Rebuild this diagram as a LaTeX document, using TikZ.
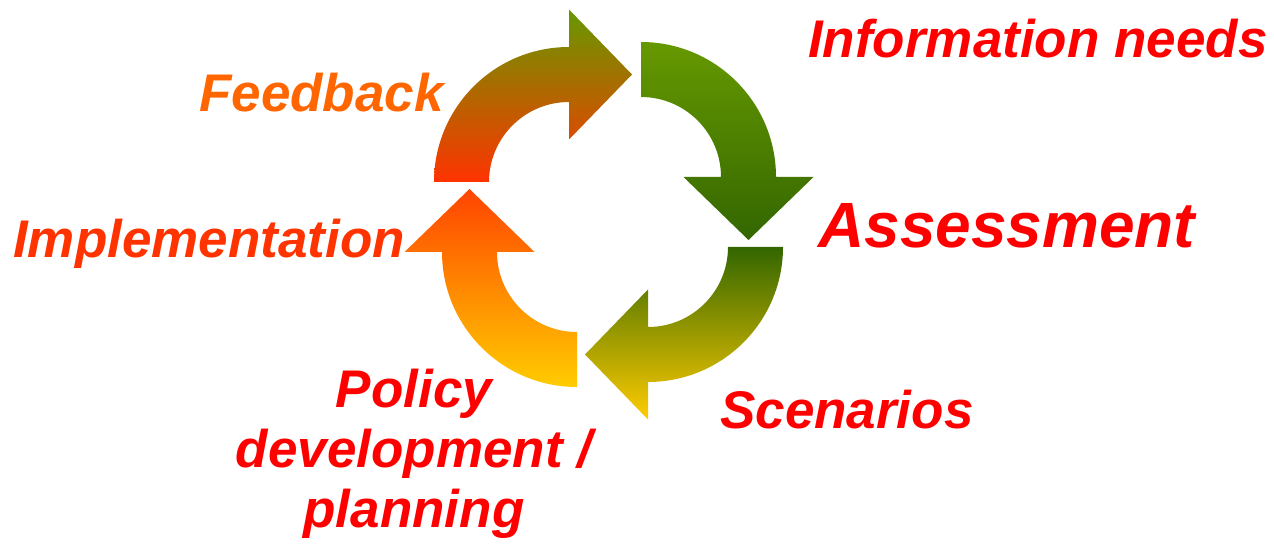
\documentclass[tikz,border=0pt]{standalone}
\usepackage{fontspec}
\setmainfont{Liberation Sans}
\usetikzlibrary{calc}
\definecolor{leafgreen}{HTML}{669900}
\definecolor{darkleaf}{HTML}{336600}
\definecolor{flame}{HTML}{FF3300}
\definecolor{flamelight}{HTML}{FF4400}
\definecolor{sun}{HTML}{FFCC00}
\definecolor{labelred}{HTML}{FF0000}
\definecolor{labelorange}{HTML}{FF6600}
\definecolor{labelflame}{HTML}{FF3300}
\tikzset{
  lbl/.style={font=\fontsize{53}{60}\selectfont\bfseries\itshape, inner sep=0pt, anchor=base west},
}
% curved cycle arrow: center, start angle, end angle (clockwise), top and bottom colours
\newcommand{\cyclearrow}[5]{%
  \shade[top color=#4, bottom color=#5]
    ($(#1)+(#2:135)$) arc[start angle=#2, end angle=#3, radius=135]
    -- ($(#1)+(#3:172.5)$)
    -- ($(#1)+(#3:107.5)+(#3-90:63)$)
    -- ($(#1)+(#3:42.5)$)
    -- ($(#1)+(#3:80)$) arc[start angle=#3, end angle=#2, radius=80]
    -- cycle;}
\begin{document}
\begin{tikzpicture}[x=1pt,y=1pt]
\useasboundingbox (0,0) rectangle (1274,547);
% arc centres
\coordinate (c1) at (569,365);
\coordinate (c2) at (641,370);
\coordinate (c3) at (648,300);
\coordinate (c4) at (577,295);
\cyclearrow{c1}{180}{90}{leafgreen}{flame}
\cyclearrow{c2}{90}{0}{leafgreen}{darkleaf}
\cyclearrow{c3}{0}{-90}{darkleaf}{sun}
\cyclearrow{c4}{270}{180}{flamelight}{sun}
% labels
\node[lbl, text=labelred] (info) at (808,489) {Information needs};
\node[lbl, text=labelred, font=\fontsize{64}{70}\selectfont\bfseries\itshape] (assess) at (818,299) {Assessment};
\node[lbl, text=labelred] (scen) at (720,119) {Scenarios};
\node[lbl, text=labelorange] (feed) at (199,435) {Feedback};
\node[lbl, text=labelflame] (impl) at (13,290) {Implementation};
\node[lbl, text=labelred, anchor=base, align=center, font=\fontsize{53}{60}\selectfont\bfseries\itshape] (policy) at (414,20) {Policy\\development /\\planning};
\end{tikzpicture}
\end{document}
